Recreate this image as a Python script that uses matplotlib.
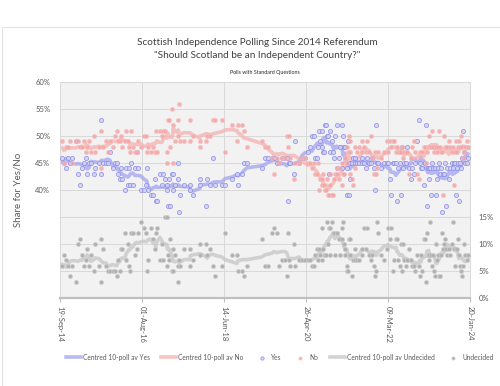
import pandas as pd
import matplotlib
matplotlib.use("Agg")
import matplotlib.pyplot as plt
import matplotlib.dates as mdates
from matplotlib.ticker import FuncFormatter
from matplotlib.patches import Rectangle

plt.rcParams['font.family'] = ['Lato', 'DejaVu Sans']

# poll fieldwork dates and shares (%)
poll_dates = [
    # 2014-2016
    '2014-10-06', '2014-10-23', '2014-11-08', '2014-11-24', '2014-12-11', '2014-12-28', '2015-01-30', '2015-02-16',
    '2015-03-04', '2015-03-20', '2015-04-07', '2015-04-23', '2015-05-02', '2015-05-18', '2015-06-03', '2015-06-28',
    '2015-07-07', '2015-08-09', '2015-08-26', '2015-08-30', '2015-09-12', '2015-10-07', '2015-10-23', '2015-11-08',
    '2015-12-03', '2015-12-20', '2016-01-06', '2016-01-14', '2016-01-31', '2016-02-08', '2016-02-16', '2016-03-13',
    '2016-03-21', '2016-04-06', '2016-04-15', '2016-04-23', '2016-05-02', '2016-05-18', '2016-06-03', '2016-06-19',
    '2016-06-27', '2016-07-23',
    # 2016-2018
    '2016-08-18', '2016-09-03', '2016-09-11', '2016-09-20', '2016-10-15', '2016-10-31', '2016-11-17', '2016-11-25',
    '2016-12-03', '2016-12-28', '2017-01-14', '2017-01-22', '2017-02-08', '2017-02-25', '2017-02-26', '2017-03-05',
    '2017-03-13', '2017-03-21', '2017-04-08', '2017-04-16', '2017-04-17', '2017-05-03', '2017-05-29', '2017-05-30',
    '2017-06-04', '2017-06-12', '2017-07-16', '2017-09-04', '2017-09-05', '2017-09-30', '2017-11-26', '2017-11-27',
    '2018-01-15', '2018-01-23', '2018-02-17', '2018-03-14', '2018-03-31', '2018-05-28', '2018-06-22',
    # 2018-2020
    '2018-08-19', '2018-09-30', '2018-10-08', '2018-11-10', '2018-11-27', '2018-12-22', '2019-04-26', '2019-05-21',
    '2019-06-14', '2019-07-18', '2019-08-03', '2019-08-28', '2019-09-14', '2019-10-09', '2019-11-02', '2019-11-18',
    '2019-11-27', '2019-12-06', '2019-12-14', '2020-01-17', '2020-01-25', '2020-02-27', '2020-03-24', '2020-04-18',
    # 2020-2022
    '2020-05-12', '2020-05-29', '2020-06-14', '2020-06-30', '2020-07-09', '2020-07-26', '2020-08-03', '2020-08-11',
    '2020-08-20', '2020-09-06', '2020-09-07', '2020-09-14', '2020-09-22', '2020-09-30', '2020-10-09', '2020-10-17',
    '2020-10-25', '2020-11-02', '2020-11-10', '2020-11-11', '2020-11-27', '2020-12-06', '2020-12-14', '2020-12-22',
    '2021-01-08', '2021-01-09', '2021-01-25', '2021-02-02', '2021-02-19', '2021-02-20', '2021-02-27', '2021-03-08',
    '2021-03-16', '2021-03-17', '2021-04-02', '2021-04-03', '2021-04-10', '2021-04-18', '2021-04-27', '2021-04-28',
    '2021-04-29', '2021-05-13', '2021-05-21', '2021-06-07', '2021-06-08', '2021-06-23', '2021-07-10', '2021-08-04',
    '2021-08-05', '2021-08-21', '2021-09-07', '2021-09-15', '2021-10-02', '2021-10-18', '2021-10-26', '2021-11-12',
    '2021-11-20', '2021-11-28', '2021-12-07', '2021-12-15', '2022-01-09', '2022-02-03', '2022-02-28', '2022-03-08',
    # 2022-2024
    '2022-03-24', '2022-04-02', '2022-04-19', '2022-04-27', '2022-05-14', '2022-05-22', '2022-05-30', '2022-06-16',
    '2022-06-24', '2022-07-02', '2022-07-10', '2022-07-19', '2022-08-05', '2022-08-13', '2022-08-30', '2022-09-16',
    '2022-09-24', '2022-10-11', '2022-10-19', '2022-11-04', '2022-11-20', '2022-11-28', '2022-12-08', '2022-12-16',
    '2023-01-02', '2023-01-10', '2023-01-18', '2023-01-26', '2023-02-04', '2023-02-12', '2023-02-13', '2023-02-21',
    '2023-03-01', '2023-03-09', '2023-03-17', '2023-03-26', '2023-04-03', '2023-04-11', '2023-04-20', '2023-04-28',
    '2023-05-07', '2023-05-15', '2023-05-23', '2023-05-31', '2023-06-08', '2023-06-16', '2023-06-24', '2023-07-03',
    '2023-07-11', '2023-07-28', '2023-08-06', '2023-08-22', '2023-08-30', '2023-09-08', '2023-09-16', '2023-09-24',
    '2023-10-03', '2023-10-11', '2023-10-19', '2023-10-27', '2023-11-05', '2023-11-13', '2023-11-21', '2023-11-29',
    '2023-12-08', '2023-12-25', '2024-01-02',
]

yes_pct = [
    46, 45, 44, 46, 45, 46, 49, 43, 41, 44, 45, 46, 43, 45, 45, 43,
    44, 45, 53, 43, 45, 45, 45, 47, 44, 45, 45, 43, 42, 44, 42, 40,
    44, 41, 44, 41, 45, 41, 44, 47, 44, 40,
    40, 41, 44, 40, 39, 39, 42, 38, 38, 43, 41, 43, 42, 40, 41, 37,
    42, 37, 43, 40, 43, 41, 45, 42, 36, 39, 41, 40, 41, 39, 42, 41,
    37, 42, 41, 46, 41, 41, 41,
    42, 43, 41, 43, 45, 45, 44, 46, 46, 46, 46, 45, 45, 46, 46, 46,
    38, 45, 45, 43, 49, 45, 46, 46,
    47, 48, 50, 50, 46, 46, 48, 51, 49, 51, 48, 47, 47, 52, 52, 50,
    50, 43, 51, 47, 49, 47, 46, 50, 52, 44, 46, 48, 52, 44, 50, 48,
    46, 48, 39, 44, 49, 39, 45, 42, 45, 45, 46, 45, 46, 45, 45, 45,
    46, 45, 44, 46, 45, 45, 46, 44, 40, 52, 45, 45, 44, 45, 45, 45,
    42, 39, 45, 45, 45, 38, 44, 45, 39, 48, 44, 45, 45, 48, 44, 42,
    44, 43, 45, 49, 53, 45, 44, 44, 41, 45, 52, 37, 44, 42, 44, 44,
    39, 45, 44, 48, 44, 39, 42, 44, 45, 43, 44, 36, 43, 43, 45, 37,
    44, 42, 44, 45, 44, 45, 45, 39, 44, 45, 38, 45, 44, 46, 51, 47,
    45, 45, 46,
]

no_pct = [
    49, 45, 48, 48, 49, 45, 49, 49, 48, 48, 49, 47, 48, 49, 47, 50,
    47, 48, 44, 51, 48, 49, 47, 49, 48, 50, 51, 49, 49, 50, 48, 49,
    51, 49, 48, 47, 51, 48, 47, 47, 49, 48,
    50, 50, 47, 48, 47, 48, 47, 51, 47, 51, 50, 51, 51, 45, 47, 53,
    53, 48, 55, 52, 45, 49, 50, 53, 56, 49, 49, 53, 49, 50, 48, 49,
    49, 50, 50, 53, 53, 53, 47,
    52, 49, 52, 52, 51, 48, 49, 48, 48, 46, 43, 46, 45, 46, 46, 50,
    48, 50, 46, 42, 45, 45, 46, 46,
    45, 45, 44, 45, 43, 43, 45, 40, 42, 42, 41, 43, 41, 40, 40, 42,
    39, 39, 41, 43, 39, 39, 42, 43, 43, 44, 42, 44, 41, 45, 43, 43,
    46, 46, 48, 45, 47, 50, 47, 49, 43, 42, 41, 48, 44, 47, 48, 49,
    47, 48, 47, 49, 47, 50, 46, 43, 47, 43, 44, 47, 46, 47, 49, 47,
    49, 48, 49, 49, 47, 48, 47, 47, 47, 48, 46, 47, 47, 47, 43, 46,
    48, 49, 47, 43, 42, 47, 47, 47, 48, 48, 45, 47, 48, 50, 48, 48,
    48, 51, 48, 47, 48, 48, 47, 48, 51, 48, 47, 47, 39, 50, 48, 48,
    48, 49, 48, 47, 48, 41, 47, 49, 47, 48, 49, 48, 50, 48, 46, 47,
    48, 49, 48,
]

undecided_pct = [
    6, 8, 7, 6, 4, 6, 3, 10, 11, 8, 6, 7, 9, 6, 8, 5,
    10, 6, 3, 11, 9, 6, 5, 5, 5, 5, 4, 7, 5, 9, 9, 12,
    7, 10, 6, 5, 12, 12, 8, 9, 12, 14,
    13, 12, 5, 7, 13, 11, 9, 12, 13, 7, 10, 7, 15, 15, 6, 8,
    7, 11, 5, 9, 5, 8, 3, 6, 7, 6, 9, 9, 6, 7, 10, 8,
    10, 8, 9, 6, 4, 6, 12,
    8, 8, 5, 5, 4, 6, 11, 6, 6, 12, 13, 12, 6, 7, 7, 4,
    12, 7, 6, 10, 6, 7, 7, 7,
    7, 7, 6, 6, 8, 9, 7, 9, 8, 7, 13, 9, 8, 8, 8, 14,
    10, 13, 8, 13, 14, 12, 12, 8, 12, 12, 11, 8, 13, 11, 14, 10,
    9, 8, 6, 5, 5, 11, 11, 8, 8, 4, 7, 7, 9, 7, 7, 9,
    8, 13, 9, 13, 8, 7, 8, 6, 4, 5, 14, 12, 8, 7, 9, 13,
    11, 13, 5, 7, 11, 11, 7, 6, 10, 5, 10, 7, 6, 7, 9, 7,
    6, 6, 5, 8, 6, 4, 8, 5, 11, 11, 3, 12, 8, 8, 7, 14,
    8, 6, 8, 5, 4, 10, 7, 8, 4, 4, 8, 12, 9, 10, 11, 9,
    8, 9, 8, 10, 14, 9, 6, 9, 9, 11, 8, 6, 5, 4, 6, 10,
    8, 7, 8,
]

tick_dates = ['2014-09-19', '2016-08-01', '2018-06-14', '2020-04-26', '2022-03-09', '2024-01-20']

df = pd.DataFrame({'date': pd.to_datetime(poll_dates), 'yes': yes_pct,
                   'no': no_pct, 'und': undecided_pct}).sort_values('date')
# centred 10-poll averages
for col in ['yes', 'no', 'und']:
    df[col + '_av'] = df[col].rolling(10, center=True, min_periods=5).mean()

yes_c, yes_line = '#8c8ce8', '#a4a4f0'
no_c, no_line = '#f4a3a3', '#f5b0b0'
und_c, und_line = '#b0b0b0', '#c8c8c8'
txt = '#595959'

fig = plt.figure(figsize=(5, 3.86), dpi=100)
fig.patches.append(Rectangle((0.004, -0.01), 1.0, 0.94, transform=fig.transFigure,
                             fill=False, edgecolor='#e3e3e3', lw=0.8))
ax = fig.add_axes([0.12, 0.228, 0.82, 0.5596])
ax.set_facecolor('#f2f2f2')

ax.plot(df['date'], df['yes_av'], color=yes_line, lw=2.6, alpha=0.75, zorder=2,
        label='Centred 10-poll av Yes')
ax.plot(df['date'], df['no_av'], color=no_line, lw=2.6, alpha=0.75, zorder=2,
        label='Centred 10-poll av No')
ax.scatter(df['date'], df['yes'], s=9, facecolor='#d2d2f7', edgecolor=yes_c, lw=0.6,
           alpha=0.85, zorder=3, label='Yes')
ax.scatter(df['date'], df['no'], s=9, facecolor=no_c, edgecolor='#f7c0c0', lw=0.5,
           alpha=0.8, zorder=3, label='No')

ax.set_ylim(20, 60)
ax.set_yticks([25, 30, 35, 40, 45, 50, 55, 60])
ax.yaxis.set_major_formatter(FuncFormatter(lambda v, p: f'{v:.0f}%' if v >= 40 else ''))
ax.set_xlim(pd.Timestamp(tick_dates[0]), pd.Timestamp(tick_dates[-1]))
ax.set_xticks(pd.to_datetime(tick_dates))
ax.xaxis.set_major_formatter(mdates.DateFormatter('%d-%b-%y'))
ax.grid(True, color='#d9d9d9', lw=0.7, zorder=0)
ax.set_axisbelow(True)
ax.tick_params(axis='y', length=0, labelsize=5.5, labelcolor=txt, pad=7)
ax.tick_params(axis='x', length=3, color='#bfbfbf', labelsize=5.5, labelcolor=txt,
               labelrotation=-90, pad=3)
for side in ['left', 'right', 'top']:
    ax.spines[side].set_color('#d9d9d9')
    ax.spines[side].set_linewidth(0.7)
ax.spines['bottom'].set_color('#bfbfbf')
ax.spines['bottom'].set_linewidth(1.6)
ax.set_ylabel('Share for Yes/No', fontsize=7, color=txt, labelpad=9)

ax2 = ax.twinx()
ax2.plot(df['date'], df['und_av'], color=und_line, lw=2.6, alpha=0.8, zorder=2,
         label='Centred 10-poll av Undecided')
ax2.scatter(df['date'], df['und'], s=8, facecolor=und_c, edgecolor='#cccccc', lw=0.5,
            zorder=3, label='Undecided')
ax2.set_ylim(0, 40)
ax2.set_yticks([0, 5, 10, 15])
ax2.yaxis.set_major_formatter(FuncFormatter(lambda v, p: f'{v:.0f}%'))
ax2.tick_params(axis='y', length=0, labelsize=5.5, labelcolor=txt, pad=6)
for side in ['left', 'right', 'top', 'bottom']:
    ax2.spines[side].set_visible(False)

fig.text(0.514, 0.891, 'Scottish Independence Polling Since 2014 Referendum',
         ha='center', va='center', fontsize=7.2, color='#404040')
fig.text(0.514, 0.855, '"Should Scotland be an Independent Country?"',
         ha='center', va='center', fontsize=7.2, color='#404040')
fig.text(0.530, 0.813, 'Polls with Standard Questions',
         ha='center', va='center', fontsize=3.8, color='#262626')

h1, l1 = ax.get_legend_handles_labels()
h2, l2 = ax2.get_legend_handles_labels()
fig.legend(h1 + h2, l1 + l2, loc='center', bbox_to_anchor=(0.56, 0.075), ncol=6,
           frameon=False, fontsize=4.8, labelcolor=txt, handlelength=2.2,
           columnspacing=1.7, handletextpad=0.3, markerscale=0.8)

fig.savefig('out.png', dpi=100)
